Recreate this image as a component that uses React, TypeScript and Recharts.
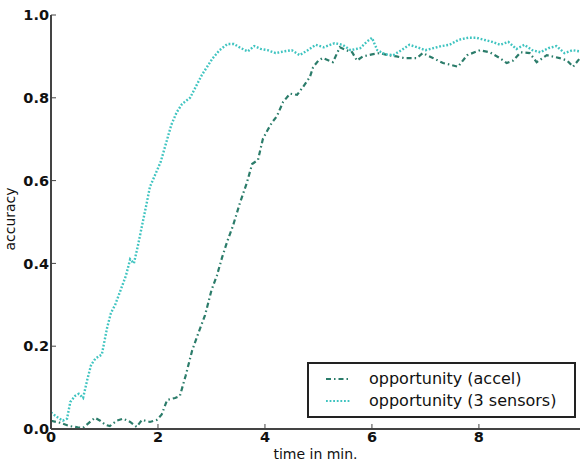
import { LineChart, Line, XAxis, YAxis, Legend, Label } from 'recharts';

// time (min) / accuracy pairs
const accelTime = [
  0, 0.17, 0.35, 0.5, 0.6, 0.73, 0.82, 0.92, 1.02, 1.1, 1.23, 1.35, 1.48, 1.6, 1.7, 1.85, 1.98,
  2.07, 2.17, 2.32, 2.41, 2.52, 2.64, 2.75, 2.88, 3.0, 3.1, 3.2, 3.3, 3.4, 3.53, 3.66, 3.76,
  3.87, 3.96, 4.04, 4.13, 4.22, 4.34, 4.47, 4.6, 4.71, 4.84, 4.9, 5.0, 5.08, 5.27, 5.4, 5.52,
  5.63, 5.72, 5.83, 6.0, 6.15, 6.3, 6.46, 6.6, 6.84, 6.95, 7.14, 7.33, 7.46, 7.61, 7.78, 8.02,
  8.2, 8.39, 8.52, 8.64, 8.78, 8.95, 9.08, 9.27, 9.51, 9.65, 9.76, 9.89,
];
const accelAcc = [
  0.02, 0.015, 0.007, 0.004, 0.003, 0.017, 0.027, 0.02, 0.01, 0.007, 0.02, 0.025, 0.017, 0.005,
  0.022, 0.017, 0.022, 0.035, 0.07, 0.075, 0.08, 0.13, 0.19, 0.23, 0.275, 0.335, 0.37, 0.415,
  0.455, 0.49, 0.545, 0.594, 0.64, 0.65, 0.7, 0.72, 0.74, 0.755, 0.79, 0.81, 0.807, 0.826, 0.85,
  0.874, 0.89, 0.896, 0.886, 0.922, 0.915, 0.91, 0.89, 0.9, 0.905, 0.908, 0.903, 0.9, 0.896,
  0.896, 0.908, 0.896, 0.884, 0.88, 0.875, 0.903, 0.915, 0.91, 0.896, 0.884, 0.89, 0.91, 0.908,
  0.886, 0.903, 0.896, 0.89, 0.875, 0.896,
];

const sensorsTime = [
  0, 0.1, 0.22, 0.3, 0.36, 0.45, 0.52, 0.6, 0.68, 0.75, 0.83, 0.95, 1.05, 1.12, 1.2, 1.3, 1.4,
  1.48, 1.55, 1.62, 1.7, 1.78, 1.85, 1.95, 2.05, 2.15, 2.25, 2.35, 2.45, 2.6, 2.72, 2.82, 2.92,
  3.02, 3.15, 3.3, 3.42, 3.55, 3.68, 3.8, 3.92, 4.05, 4.2, 4.35, 4.5, 4.65, 4.8, 4.95, 5.1, 5.3,
  5.45, 5.6, 5.78, 5.9, 6.0, 6.1, 6.25, 6.4, 6.55, 6.7, 6.85, 7.0, 7.15, 7.3, 7.45, 7.62, 7.8,
  7.95, 8.1, 8.25, 8.4, 8.55, 8.7, 8.85, 9.0, 9.15, 9.3, 9.45, 9.6, 9.75, 9.89,
];
const sensorsAcc = [
  0.04, 0.03, 0.02, 0.025, 0.065, 0.08, 0.085, 0.075, 0.12, 0.155, 0.17, 0.18, 0.245, 0.28, 0.3,
  0.335, 0.37, 0.41, 0.4, 0.44, 0.49, 0.54, 0.585, 0.615, 0.645, 0.69, 0.735, 0.765, 0.785, 0.8,
  0.83, 0.855, 0.875, 0.895, 0.915, 0.93, 0.93, 0.92, 0.912, 0.925, 0.918, 0.915, 0.908, 0.912,
  0.915, 0.903, 0.915, 0.928, 0.922, 0.932, 0.928, 0.915, 0.92, 0.935, 0.945, 0.915, 0.905,
  0.903, 0.915, 0.928, 0.922, 0.915, 0.92, 0.925, 0.928, 0.94, 0.945, 0.945, 0.94, 0.935, 0.928,
  0.935, 0.918, 0.928, 0.915, 0.91, 0.92, 0.925, 0.908, 0.915, 0.912,
];

const xTicks = [0, 2, 4, 6, 8];
const yTicks = [0, 0.2, 0.4, 0.6, 0.8, 1.0];

const ACCEL_COLOR = '#2b7c6a';
const SENSORS_COLOR = '#3fc4c0';
const ACCEL_DASH = '5 3 1.5 3';
const SENSORS_DASH = '1.8 1.8';

const accelData = accelTime.map((t, i) => ({ t, acc: accelAcc[i] }));
const sensorsData = sensorsTime.map((t, i) => ({ t, acc: sensorsAcc[i] }));

const FONT = '"DejaVu Sans", sans-serif';
const tickStyle = { fill: '#111', fontSize: 14.5, fontWeight: 'bold', fontFamily: FONT };
const spine = { stroke: '#444', strokeWidth: 2 };

function LegendBox() {
    const rows = [
        { name: 'opportunity (accel)', color: ACCEL_COLOR, dash: ACCEL_DASH },
        { name: 'opportunity (3 sensors)', color: SENSORS_COLOR, dash: SENSORS_DASH },
    ];
    return (
        <div
            style={{
                boxSizing: 'border-box',
                width: 269,
                height: 56,
                border: '2px solid #222',
                background: '#fff',
                padding: '4px 0 0 0',
                fontFamily: FONT,
                fontSize: 16,
                color: '#111',
            }}
        >
            {rows.map((r) => (
                <div key={r.name} style={{ display: 'flex', alignItems: 'center', height: 22 }}>
                    <svg width={60} height={10}>
                        <line x1={17} y1={5} x2={41} y2={5} stroke={r.color} strokeWidth={2.2} strokeDasharray={r.dash} />
                    </svg>
                    <span style={{ lineHeight: '22px' }}>{r.name}</span>
                </div>
            ))}
        </div>
    );
}

export default function App() {
    return (
        <div style={{ position: 'absolute', left: 0, top: 0, width: 581, height: 466, background: '#fff' }}>
            <LineChart width={581} height={466} margin={{ top: 15, right: 1, left: 0, bottom: 0 }}>
                <XAxis
                    xAxisId="main"
                    dataKey="t"
                    type="number"
                    domain={[0, 9.89]}
                    ticks={xTicks}
                    height={37}
                    tickSize={-5}
                    tickMargin={8}
                    tick={tickStyle}
                    axisLine={spine}
                    tickLine={{ stroke: '#444' }}
                >
                    <Label
                        value="time in min."
                        position="insideBottom"
                        offset={7}
                        style={{ fill: '#111', fontSize: 14, fontFamily: FONT }}
                    />
                </XAxis>
                <XAxis
                    xAxisId="top"
                    orientation="top"
                    dataKey="t"
                    type="number"
                    domain={[0, 9.89]}
                    ticks={xTicks}
                    height={0}
                    tickSize={-5}
                    tick={false}
                    axisLine={spine}
                    tickLine={{ stroke: '#444' }}
                />
                <YAxis
                    yAxisId="main"
                    type="number"
                    domain={[0, 1]}
                    ticks={yTicks}
                    width={51}
                    tickSize={-5}
                    tickMargin={7}
                    tick={tickStyle}
                    tickFormatter={(v: number) => v.toFixed(1)}
                    axisLine={spine}
                    tickLine={{ stroke: '#444' }}
                >
                    <Label
                        content={({ viewBox }: any) => {
                            const cy = viewBox.y + viewBox.height / 2 - 3;
                            return (
                                <text
                                    x={10}
                                    y={cy}
                                    transform={`rotate(-90, 10, ${cy})`}
                                    textAnchor="middle"
                                    dominantBaseline="central"
                                    style={{ fill: '#111', fontSize: 14, fontFamily: FONT }}
                                >
                                    accuracy
                                </text>
                            );
                        }}
                    />
                </YAxis>
                <YAxis
                    yAxisId="right"
                    orientation="right"
                    type="number"
                    domain={[0, 1]}
                    ticks={yTicks}
                    width={0}
                    tickSize={-5}
                    tick={false}
                    axisLine={spine}
                    tickLine={{ stroke: '#444' }}
                />
                <Legend
                    layout="vertical"
                    align="center"
                    verticalAlign="middle"
                    content={() => <LegendBox />}
                    wrapperStyle={{ left: 307, top: 362, width: 269, height: 56 }}
                />
                <Line
                    xAxisId="main"
                    yAxisId="main"
                    data={accelData}
                    dataKey="acc"
                    name="opportunity (accel)"
                    type="linear"
                    stroke={ACCEL_COLOR}
                    strokeWidth={2.2}
                    strokeDasharray={ACCEL_DASH}
                    dot={false}
                    isAnimationActive={false}
                />
                <Line
                    xAxisId="main"
                    yAxisId="main"
                    data={sensorsData}
                    dataKey="acc"
                    name="opportunity (3 sensors)"
                    type="linear"
                    stroke={SENSORS_COLOR}
                    strokeWidth={2.4}
                    strokeDasharray={SENSORS_DASH}
                    dot={false}
                    isAnimationActive={false}
                />
            </LineChart>
        </div>
    );
}
